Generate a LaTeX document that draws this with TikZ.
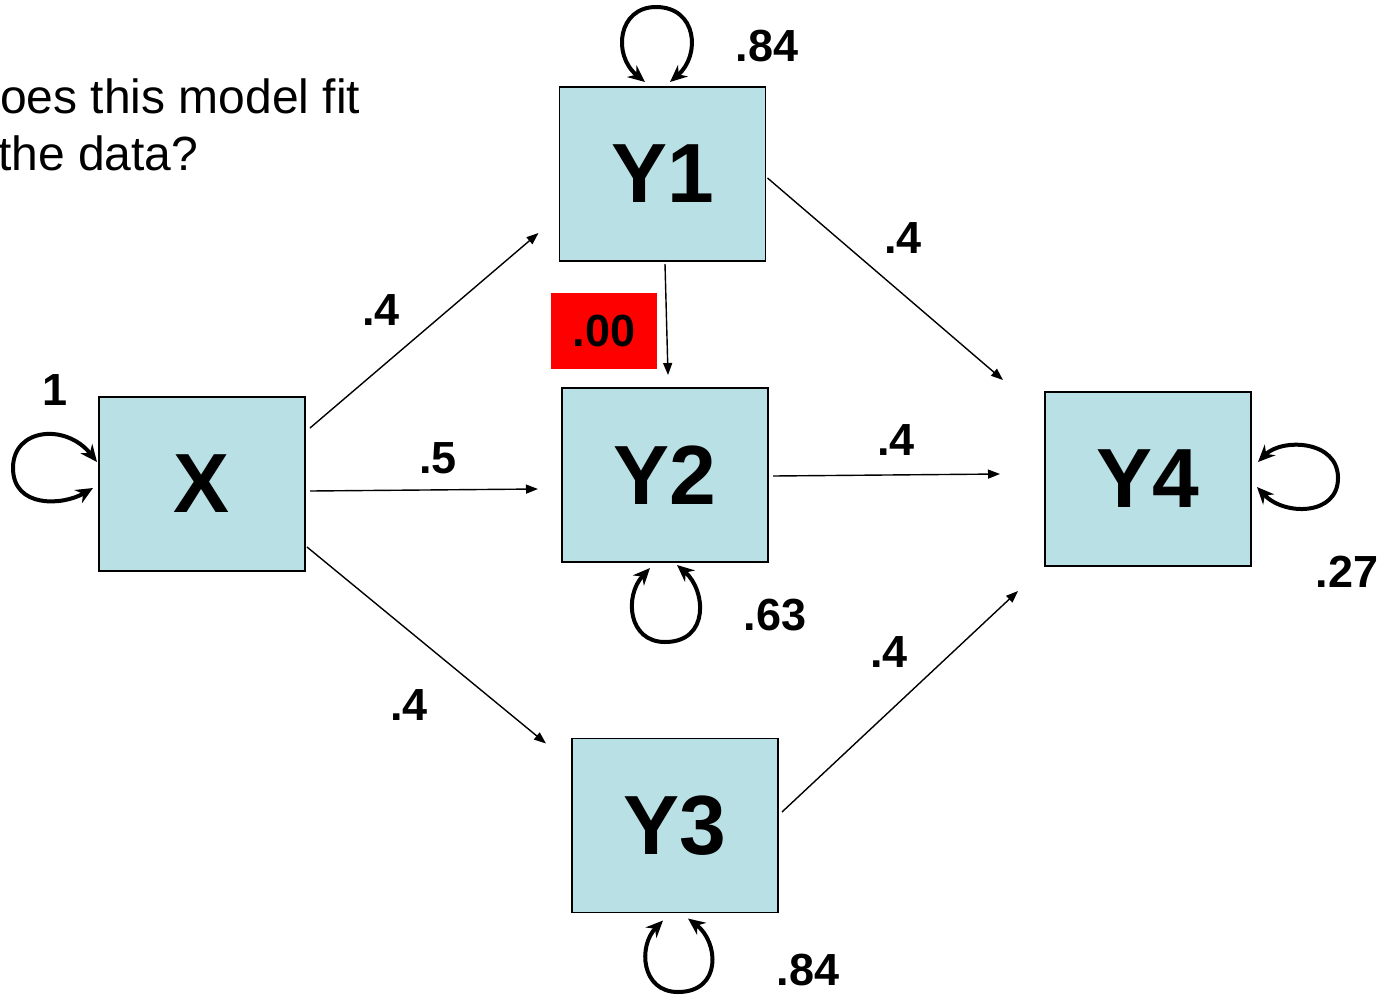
\documentclass[tikz,border=0pt]{standalone}
\usepackage{fontspec}
\setmainfont{Liberation Sans}
\usetikzlibrary{arrows.meta}
\definecolor{boxfill}{RGB}{185,224,228}
\tikzset{
  var/.style={draw=black, line width=1.5pt, fill=boxfill, minimum width=206pt,
    minimum height=174pt, inner sep=0pt, outer sep=0pt,
    font=\fontsize{84}{90}\selectfont\bfseries},
  path/.style={line width=1.4pt, -{Triangle[length=12pt,width=9pt]}},
  selfloop/.style={line width=4pt, {Stealth[length=17pt,width=15pt]}-{Stealth[length=17pt,width=15pt]}},
  coef/.style={inner sep=0pt, font=\fontsize{45}{50}\selectfont\bfseries},
  question/.style={inner sep=0pt, anchor=base west, font=\fontsize{48}{56}\selectfont}
}
\begin{document}
\begin{tikzpicture}[x=1pt, y=-1pt]
\useasboundingbox (0,0) rectangle (1383,996);

% question text
\node[question] (q1) at (0,113) {oes this model fit};
\node[question] (q2) at (-2,170) {the data?};

% variables
\node[var] (X)  at (202,484)   {X};
\node[var] (Y1) at (662.5,174) {Y1};
\node[var] (Y2) at (665,475)   {Y2};
\node[var] (Y3) at (675,825.5) {Y3};
\node[var] (Y4) at (1148,479)  {Y4};

% directed paths
\draw[path] ([shift={(5,31)}]X.north east) -- ([shift={(-21,-28)}]Y1.south west);
\draw[path] ([shift={(5,7)}]X.east) -- ([shift={(-24,14)}]Y2.west);
\draw[path] ([shift={(2,-24)}]X.south east) -- ([shift={(-26,5)}]Y3.north west);
\draw[path] ([shift={(2.5,3)}]Y1.south) -- ([shift={(3,-13)}]Y2.north);
\draw[path] ([shift={(2,4)}]Y1.east) -- ([shift={(-42,-12)}]Y4.north west);
\draw[path] ([shift={(5,1)}]Y2.east) -- ([shift={(-45,-5)}]Y4.west);
\draw[path] ([shift={(4,-13.5)}]Y3.east) -- ([shift={(-27,25)}]Y4.south west);

% variances
\draw[selfloop] ([shift={(-6,4)}]X.west) .. controls (62,506) and (13,508) .. (13,468)
  .. controls (13,428) and (66,423) .. ([shift={(-2,-22)}]X.west);
\draw[selfloop] ([shift={(-17.5,-5)}]Y1.north) .. controls (612,55) and (618,7) .. (656,7)
  .. controls (697,7) and (701,55) .. ([shift={(7.5,-5)}]Y1.north);
\draw[selfloop] ([shift={(-15,6)}]Y2.south) .. controls (624,596) and (628,642) .. (665,642)
  .. controls (710,642) and (706,590) .. ([shift={(12,3)}]Y2.south);
\draw[selfloop] ([shift={(-12,8)}]Y3.south) .. controls (638,946) and (641,992) .. (678,992)
  .. controls (722,992) and (719,942) .. ([shift={(13,6)}]Y3.south);
\draw[selfloop] ([shift={(7,-17)}]Y4.east) .. controls (1282,438) and (1338,440) .. (1338,478)
  .. controls (1338,516) and (1284,516) .. ([shift={(6,8)}]Y4.east);

% coefficients
\node[coef] (vX)  at (55,390)   {1};
\node[coef] (vY1) at (767,46)   {.84};
\node[coef] (vY2) at (775,615)  {.63};
\node[coef] (vY3) at (808,970)  {.84};
\node[coef] (vY4) at (1347,572) {.27};
\node[coef] (bX1) at (381,310)  {.4};
\node[coef] (bX2) at (438,458)  {.5};
\node[coef] (bX3) at (409,705)  {.4};
\node[coef] (b14) at (903,238)  {.4};
\node[coef] (b24) at (896,440)  {.4};
\node[coef] (b34) at (889,652)  {.4};
\node[coef, fill=red, minimum width=106pt, minimum height=76pt] (b12) at (604,331) {.00};
\end{tikzpicture}
\end{document}
